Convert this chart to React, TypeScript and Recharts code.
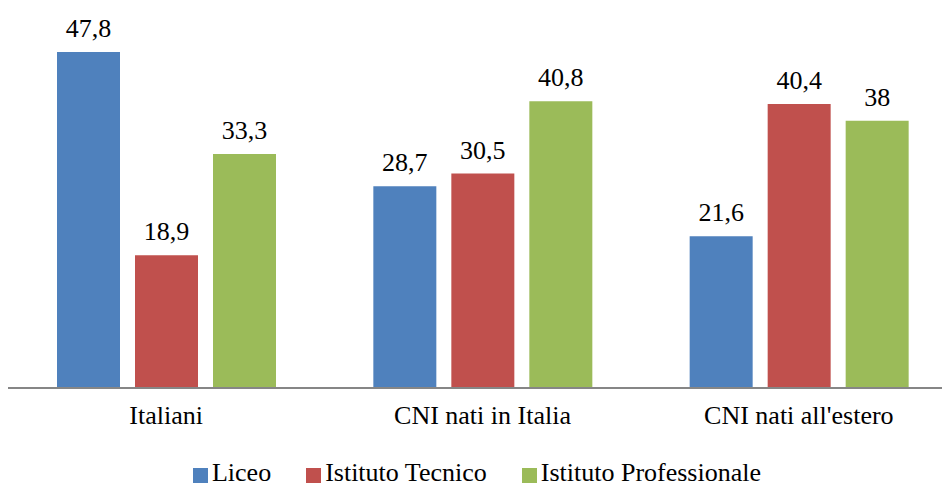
import React from "react";
import { BarChart, Bar, XAxis, YAxis, Legend, LabelList } from "recharts";

const categories = ["Italiani", "CNI nati in Italia", "CNI nati all'estero"];
const liceo = [47.8, 28.7, 21.6];
const tecnico = [18.9, 30.5, 40.4];
const professionale = [33.3, 40.8, 38];
const seriesOrder = ["liceo", "tecnico", "professionale"];

const data = categories.map((c, i) => ({
  name: c,
  liceo: liceo[i],
  tecnico: tecnico[i],
  professionale: professionale[i],
}));

const fmt = (v: any) => String(v).replace(".", ",");
const font = "Liberation Serif, Times New Roman, serif";
const labelStyle = { fill: "#000", fontSize: 26, fontFamily: font };

export default function App() {
  return (
    <div style={{ position: "absolute", left: 0, top: 0, width: 942, height: 486, fontFamily: font }}>
      <BarChart
        width={942}
        height={486}
        data={data}
        margin={{ top: 36.5, right: -15, bottom: 0, left: 8 }}
        barGap={15}
        barSize={63}
      >
        <XAxis
          dataKey="name"
          tickLine={false}
          axisLine={{ stroke: "#868686", strokeWidth: 2 }}
          tick={{ fill: "#000", fontSize: 26, fontFamily: font }}
          tickMargin={12}
          height={72}
          interval={0}
        />
        <YAxis hide domain={[0, 50]} />
        <Legend
          verticalAlign="bottom"
          iconType="square"
          iconSize={15}
          itemSorter={(item: any) => seriesOrder.indexOf(item.dataKey)}
          wrapperStyle={{ fontFamily: font, fontSize: 26, color: "#000", lineHeight: "26px", left: 47, width: 895, bottom: 0 }}
          formatter={(v: any) => <span style={{ color: "#000", marginRight: 25, fontFamily: font }}>{v}</span>}
        />
        <Bar dataKey="liceo" name="Liceo" fill="#4F81BD" isAnimationActive={false}>
          <LabelList dataKey="liceo" position="top" offset={15} formatter={fmt} style={labelStyle} />
        </Bar>
        <Bar dataKey="tecnico" name="Istituto Tecnico" fill="#C0504D" isAnimationActive={false}>
          <LabelList dataKey="tecnico" position="top" offset={15} formatter={fmt} style={labelStyle} />
        </Bar>
        <Bar dataKey="professionale" name="Istituto Professionale" fill="#9BBB59" isAnimationActive={false}>
          <LabelList dataKey="professionale" position="top" offset={15} formatter={fmt} style={labelStyle} />
        </Bar>
      </BarChart>
    </div>
  );
}
